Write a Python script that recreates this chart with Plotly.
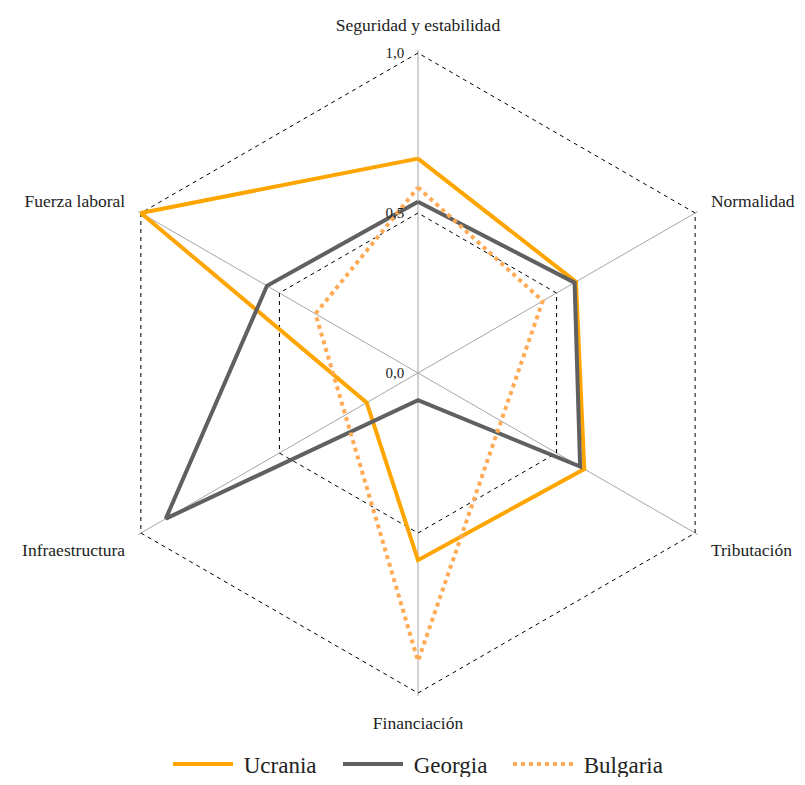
import plotly.graph_objects as go

categories = [
    "Seguridad y estabilidad",
    "Normalidad",
    "Tributación",
    "Financiación",
    "Infraestructura",
    "Fuerza laboral",
]
ucrania = [0.67, 0.57, 0.60, 0.585, 0.185, 1.0]
georgia = [0.535, 0.565, 0.585, 0.085, 0.91, 0.545]
bulgaria = [0.58, 0.45, None, 0.90, None, 0.37]  # sin dato en dos ejes

radial_ticks = [0.0, 0.5, 1.0]
radial_labels = ["0,0", "0,5", "1,0"]

FONT = "Liberation Serif"
R_MAX = 1.01

# figura algo menor que la ventana: el <body> añade 8 px de margen
W, H = 797, 769
# centro y radio del polígono (px dentro de la figura)
CX, CY, RAD = 410, 365, 320 * R_MAX


def closed(values):
    pairs = [(c, v) for c, v in zip(categories, values) if v is not None]
    pairs.append(pairs[0])
    return [p[0] for p in pairs], [p[1] for p in pairs]


series = [
    ("Ucrania", ucrania, "#FFA500", "solid"),
    ("Georgia", georgia, "#606060", "solid"),
    ("Bulgaria", bulgaria, "#FFAA55", "dot"),
]

fig = go.Figure()
for name, values, color, dash in series:
    theta, r = closed(values)
    fig.add_trace(
        go.Scatterpolar(
            r=r,
            theta=theta,
            mode="lines",
            name="\u00a0" + name,
            line=dict(color=color, width=4, dash=dash),
        )
    )

fig.update_layout(
    width=W,
    height=H,
    margin=dict(l=0, r=0, t=0, b=0, autoexpand=False),
    paper_bgcolor="white",
    font=dict(family=FONT, color="#222222"),
    polar=dict(
        domain=dict(
            x=[(CX - RAD) / W, (CX + RAD) / W],
            y=[1 - (CY + RAD) / H, 1 - (CY - RAD) / H],
        ),
        bgcolor="white",
        gridshape="linear",
        angularaxis=dict(
            rotation=90,
            direction="clockwise",
            categoryorder="array",
            categoryarray=categories,
            showline=False,
            gridcolor="#a6a6a6",
            gridwidth=1,
            ticks="outside",
            ticklen=11,
            tickcolor="rgba(0,0,0,0)",
            tickfont=dict(size=17.5, family=FONT, color="#222222"),
        ),
        radialaxis=dict(
            range=[0, R_MAX],
            angle=90,
            tickangle=90,
            side="counterclockwise",
            tickvals=radial_ticks,
            ticktext=radial_labels,
            showline=False,
            ticks="outside",
            ticklen=8,
            tickcolor="rgba(0,0,0,0)",
            gridcolor="black",
            gridwidth=1.4,
            griddash="4px,4px",
            tickfont=dict(size=15, family=FONT, color="#222222"),
        ),
    ),
    showlegend=True,
    legend=dict(
        orientation="h",
        x=160 / W,
        xanchor="left",
        y=1 - 756 / H,
        yanchor="middle",
        font=dict(size=23, family=FONT, color="#222222"),
        itemwidth=60,
        entrywidth=95,
        entrywidthmode="pixels",
    ),
)

fig.write_html("out.html")
